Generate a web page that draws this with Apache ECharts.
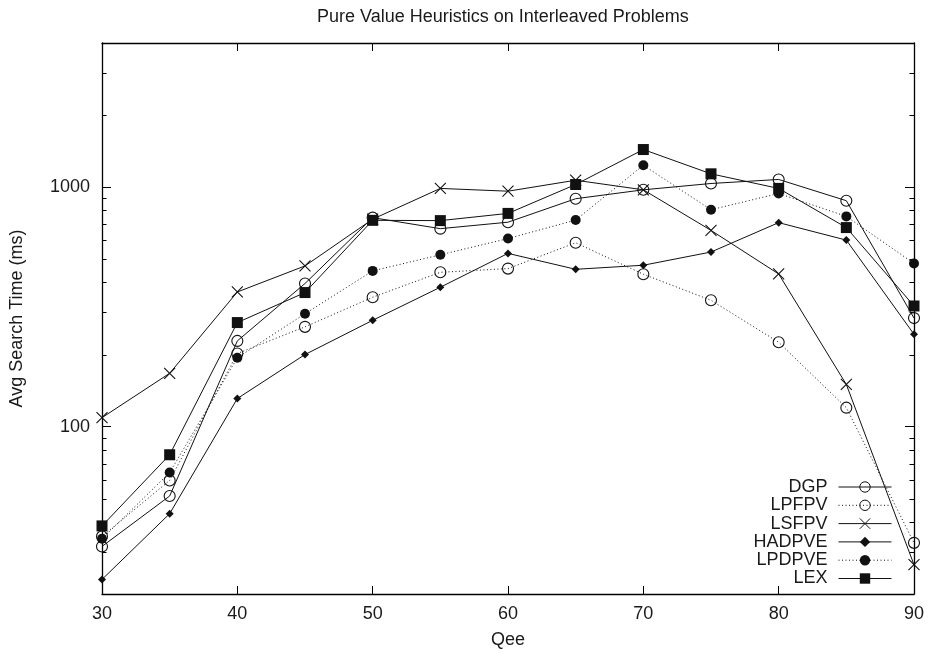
<!DOCTYPE html>
<html><head><meta charset="utf-8">
<script src="https://cdn.jsdelivr.net/npm/echarts@6/dist/echarts.min.js"></script>
<style>html,body{margin:0;padding:0;background:#fff}#c{width:933px;height:654px}</style>
</head><body><div id="c"></div>
<script>
const qee    = [30, 35, 40, 45, 50, 55, 60, 65, 70, 75, 80, 85, 90];
const dgp    = [31.6, 51.3, 228, 396, 746, 671, 714, 895, 975, 1036, 1077, 878, 284];
const lpfpv  = [34.8, 59.6, 202, 261, 347, 441, 457, 586, 433, 337, 225, 120, 32.7];
const lsfpv  = [109, 167, 365, 469, 735, 988, 962, 1069, 975, 660, 434, 150, 26.5];
const hadpve = [23.0, 43.3, 131, 200, 278, 382, 529, 454, 472, 536, 711, 601, 243];
const lpdpve = [34.0, 64.3, 194, 296, 447, 522, 610, 729, 1235, 805, 941, 755, 480];
const lex    = [38.5, 76.3, 272, 363, 727, 725, 777, 1026, 1436, 1137, 988, 678, 319];
const yMinorTicks = [30, 40, 50, 60, 70, 80, 90, 200, 300, 400, 500, 600, 700, 800, 900, 2000, 3000];

const FONT = 'Liberation Sans';
const TXT = '#1a1a1a';
const INK = '#111';
const pair = arr => qee.map((x, i) => [x, arr[i]]);

const crossPath = 'path://M0,0L10,10M0,10L10,0';

function mk(name, arr, symbol, size, filled, dotted) {
  return {
    name, type: 'line', data: pair(arr),
    symbol, symbolSize: size,
    showAllSymbol: true,
    lineStyle: { color: INK, width: 1, type: dotted ? [1, 2.5] : 'solid' },
    itemStyle: filled ? { color: INK, borderWidth: 0 } : { color: 'rgba(0,0,0,0)', borderColor: INK, borderWidth: 1.1 },
    emphasis: { disabled: true },
    z: 3
  };
}

const chart = echarts.init(document.getElementById('c'), null, { renderer: 'canvas' });
const axisLine = { show: true, onZero: false, lineStyle: { color: '#000', width: 1.3 } };
const labelStyle = { fontSize: 18, color: TXT, fontFamily: FONT };

chart.setOption({
  animation: false,
  backgroundColor: '#fff',
  title: {
    text: 'Pure Value Heuristics on Interleaved Problems',
    left: 312, top: 3,
    textStyle: { fontSize: 18, fontWeight: 'normal', color: TXT, fontFamily: FONT }
  },
  grid: { left: 102, right: 19, top: 43, bottom: 59 },
  legend: {
    orient: 'vertical', right: 41, top: 478, align: 'right', padding: 0,
    itemWidth: 53, itemHeight: 13, itemGap: 0.3,
    lineStyle: { width: 1 },
    itemStyle: { borderWidth: 1 },
    textStyle: { fontSize: 18, lineHeight: 18, color: TXT, fontFamily: FONT, padding: [0, 6, 0, 0] },
    data: ['DGP', 'LPFPV', 'LSFPV', 'HADPVE', 'LPDPVE', 'LEX']
  },
  xAxis: [
    {
      type: 'value', min: 30, max: 90, interval: 10, position: 'bottom',
      axisLine, axisTick: { inside: true, length: 8, lineStyle: { color: '#000', width: 1 } },
      axisLabel: Object.assign({ margin: 11 }, labelStyle),
      splitLine: { show: false },
      name: 'Qee', nameLocation: 'middle', nameGap: 37,
      nameTextStyle: labelStyle
    },
    {
      type: 'value', min: 30, max: 90, interval: 10, position: 'top',
      axisLine, axisTick: { inside: true, length: 8, lineStyle: { color: '#000', width: 1 } },
      axisLabel: { show: false }, splitLine: { show: false }
    }
  ],
  yAxis: [
    {
      type: 'log', logBase: 10, min: 20, max: 4000, position: 'left',
      axisLine, axisTick: { inside: true, length: 9, lineStyle: { color: '#000', width: 1 } },
      axisLabel: Object.assign({ margin: 12, showMinLabel: false, showMaxLabel: false, formatter: v => String(v) }, labelStyle),
      splitLine: { show: false }, minorTick: { show: false },
      name: 'Avg Search Time (ms)', nameLocation: 'middle', nameGap: 76,
      nameTextStyle: labelStyle
    },
    {
      type: 'log', logBase: 10, min: 20, max: 4000, position: 'right',
      axisLine, axisTick: { inside: true, length: 9, lineStyle: { color: '#000', width: 1 } },
      axisLabel: { show: false }, splitLine: { show: false }
    }
  ],
  series: [
    mk('DGP', dgp, 'circle', 11, false, false),
    mk('LPFPV', lpfpv, 'circle', 11, false, true),
    mk('LSFPV', lsfpv, crossPath, 11, false, false),
    mk('HADPVE', hadpve, 'diamond', 8, true, false),
    mk('LPDPVE', lpdpve, 'circle', 10, true, true),
    mk('LEX', lex, 'rect', 11, true, false)
  ]
});

// minor log ticks (2..9 x decade), placed through the axis scale
const xl = chart.convertToPixel({ xAxisIndex: 0 }, 30);
const xr = chart.convertToPixel({ xAxisIndex: 0 }, 90);
const g = [];
yMinorTicks.forEach(v => {
  const y = Math.round(chart.convertToPixel({ yAxisIndex: 0 }, v)) + 0.5;
  g.push({ type: 'line', shape: { x1: xl, y1: y, x2: xl + 4.5, y2: y }, style: { stroke: '#000', lineWidth: 1 }, silent: true });
  g.push({ type: 'line', shape: { x1: xr - 4.5, y1: y, x2: xr, y2: y }, style: { stroke: '#000', lineWidth: 1 }, silent: true });
});
chart.setOption({ graphic: g });
</script>
</body></html>
